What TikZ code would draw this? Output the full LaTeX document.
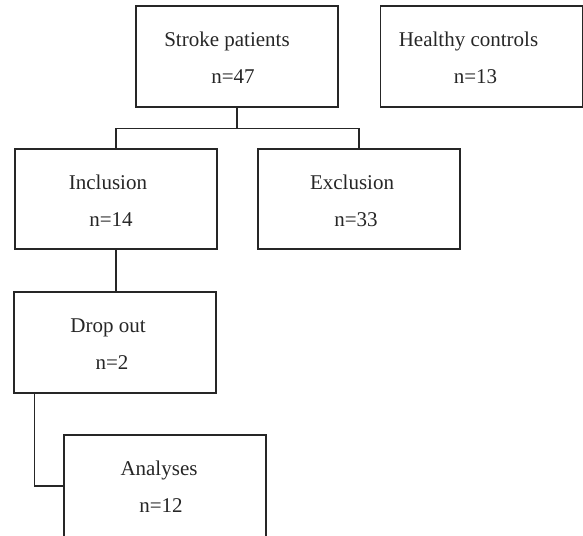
\documentclass[tikz,border=0pt]{standalone}
\usepackage{fontspec}
\setmainfont{Liberation Serif}
\usepackage{tikz}
\usetikzlibrary{positioning,calc}

\begin{document}
\begin{tikzpicture}[x=0.5pt, y=-0.5pt, line width=0.55pt, draw=black!85,
  font=\fontsize{10.5}{12.6}\selectfont,
  box/.style={draw=black!85, minimum width=101pt, minimum height=50.5pt, inner sep=0pt},
  ttl/.style={anchor=base, inner sep=0pt, text=black!85},
  cnt/.style={anchor=base, inner sep=0pt, text=black!85}]
  \path[use as bounding box, clip] (0,0) rectangle (583,535);

  % Boxes
  \node[box] (stroke) at (237,56.5) {};
  \node[box] (healthy) at (481.5,56.5) {};
  \node[box, minimum height=50pt] (incl) at (116,199) {};
  \node[box, minimum height=50pt] (excl) at (359,199) {};
  \node[box] (drop) at (115,342.5) {};
  \node[box, minimum height=52pt] (anal) at (165,487) {};

  % Texts
  \node[ttl] at ($(stroke.center)+(-10,-10)$) {Stroke patients};
  \node[cnt] at ($(stroke.center)+(-4,27)$) {n=47};
  \node[ttl] at ($(healthy.center)+(-13,-10)$) {Healthy controls};
  \node[cnt] at ($(healthy.center)+(-6,27)$) {n=13};
  \node[ttl] at ($(incl.center)+(-8,-10)$) {Inclusion};
  \node[cnt] at ($(incl.center)+(-5,27)$) {n=14};
  \node[ttl] at ($(excl.center)+(-7,-10)$) {Exclusion};
  \node[cnt] at ($(excl.center)+(-3,27)$) {n=33};
  \node[ttl] at ($(drop.center)+(-7,-10)$) {Drop out};
  \node[cnt] at ($(drop.center)+(-3,27)$) {n=2};
  \node[ttl] at ($(anal.center)+(-6,-11.5)$) {Analyses};
  \node[cnt] at ($(anal.center)+(-4,25.5)$) {n=12};

  % Connectors
  \coordinate (split) at ($(stroke.south)+(0,21)$);
  \draw (stroke.south) -- (split);
  \draw (incl.north) |- (split) -| (excl.north);
  \draw (incl.south) -- (incl.south |- drop.north);
  \draw ($(drop.south west)+(21,0)$) |- (anal.west |- 0,486);
\end{tikzpicture}
\end{document}
